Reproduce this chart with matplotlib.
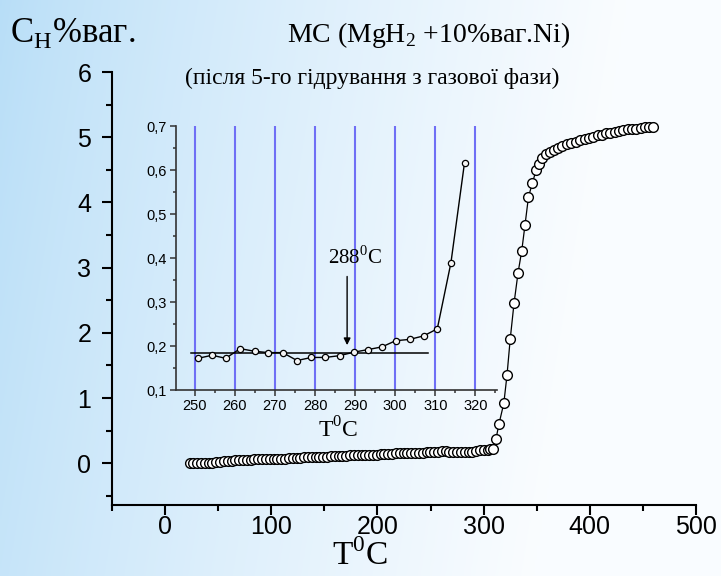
import numpy as np
import matplotlib
matplotlib.use("Agg")
import matplotlib.pyplot as plt
from matplotlib.ticker import MultipleLocator, FuncFormatter

# ---------------- data ----------------
main_T = [23.0, 26.6, 30.2, 33.8, 37.4, 41.0, 44.6, 48.2, 51.8, 55.4, 59.0, 62.6,
          66.2, 69.8, 73.4, 77.0, 80.6, 84.2, 87.8, 91.4, 95.0, 98.6, 102.2, 105.8,
          109.4, 113.0, 116.6, 120.2, 123.8, 127.4, 131.0, 134.6, 138.2, 141.8, 145.4,
          149.0, 152.6, 156.2, 159.8, 163.4, 167.0, 170.6, 174.2, 177.8, 181.4, 185.0,
          188.6, 192.2, 195.8, 199.4, 203.0, 206.6, 210.2, 213.8, 217.4, 221.0, 224.6,
          228.2, 231.8, 235.4, 239.0, 242.6, 246.2, 249.8, 253.4, 257.0, 260.6, 264.2,
          267.8, 271.4, 275.0, 278.6, 282.2, 285.8, 289.4, 293.0, 296.6, 300.2, 303.8,
          306.4, 308.8,
          311.6, 314.4, 319.0, 322.0, 325.0, 328.6, 332.4, 335.9, 339.0, 342.2, 345.9,
          349.4, 352.2, 355.3, 359.1, 362.9, 366.7, 370.4, 374.2, 378.7, 382.4, 386.9,
          390.6, 395.0, 398.8, 403.2, 407.6, 411.4, 415.2, 419.0, 423.3, 427.8, 431.5,
          436.0, 439.8, 443.5, 447.9, 451.7, 455.4, 459.2]
main_C = [0.00, 0.00, 0.00, 0.01, 0.01, 0.01, 0.01, 0.02, 0.02, 0.04, 0.04, 0.04,
          0.05, 0.05, 0.05, 0.05, 0.05, 0.06, 0.06, 0.06, 0.07, 0.07, 0.06, 0.07,
          0.07, 0.07, 0.08, 0.08, 0.08, 0.08, 0.09, 0.09, 0.09, 0.10, 0.10,
          0.10, 0.10, 0.11, 0.11, 0.11, 0.11, 0.11, 0.12, 0.12, 0.12, 0.12,
          0.13, 0.13, 0.13, 0.13, 0.14, 0.14, 0.14, 0.14, 0.15, 0.15, 0.15,
          0.15, 0.16, 0.16, 0.16, 0.16, 0.17, 0.17, 0.18, 0.17, 0.19, 0.19,
          0.18, 0.18, 0.17, 0.17, 0.17, 0.18, 0.18, 0.19, 0.20, 0.21, 0.21,
          0.22, 0.22,
          0.37, 0.60, 0.92, 1.35, 1.90, 2.45, 2.92, 3.26, 3.66, 4.08, 4.30,
          4.49, 4.59, 4.68, 4.74, 4.78, 4.81, 4.84, 4.86, 4.89, 4.91, 4.93,
          4.95, 4.97, 4.99, 5.01, 5.03, 5.04, 5.06, 5.07, 5.08, 5.10, 5.11,
          5.12, 5.13, 5.13, 5.14, 5.15, 5.15, 5.16]

inset_T = [250.8, 254.3, 257.7, 261.3, 264.9, 268.3, 271.9, 275.5, 279.1, 282.5,
           286.1, 289.7, 293.3, 296.7, 300.1, 303.6, 307.1, 310.5, 313.9, 317.3]
inset_C = [0.172, 0.179, 0.172, 0.194, 0.188, 0.185, 0.185, 0.167, 0.174, 0.174,
           0.178, 0.186, 0.192, 0.198, 0.212, 0.215, 0.223, 0.239, 0.389, 0.617]
baseline_T = [249.0, 308.2]
baseline_C = [0.183, 0.183]
grid_T = [250, 260, 270, 280, 290, 300, 310, 320]
onset_T = 288
onset_label = "288$^\\mathregular{0}$C"

# ---------------- figure ----------------
W, H = 721, 576
fig = plt.figure(figsize=(W / 100, H / 100), dpi=100)

# background gradient
bg = fig.add_axes([0, 0, 1, 1], zorder=-10)
xx = np.linspace(0, 1, 300)[None, :]
yy = np.linspace(0, 1, 240)[:, None]
t = np.clip(xx * 1.15 + (1 - yy) * 0.15, 0, 1) ** 0.8
c0 = np.array([0.72, 0.87, 0.97])
c1 = np.array([0.98, 0.99, 1.0])
img = c0[None, None, :] * (1 - t[..., None]) + c1[None, None, :] * t[..., None]
bg.imshow(img, aspect="auto", extent=[0, 1, 0, 1], origin="lower")
bg.set_axis_off()

serif = ["Liberation Serif", "DejaVu Serif"]
sans = ["Liberation Sans", "DejaVu Sans"]
plt.rcParams["mathtext.fontset"] = "custom"
plt.rcParams["mathtext.rm"] = "Liberation Serif"

# main axes
ax = fig.add_axes([112 / W, 1 - 505 / H, (696 - 112) / W, (505 - 72) / H])
ax.patch.set_alpha(0)
ax.plot(main_T, main_C, color="black", lw=0.9, marker="o", ms=7,
        mfc="white", mec="black", mew=1.0, zorder=3)
ax.set_xlim(-50, 500)
ax.set_ylim(-0.64, 6)
for s in ["top", "right"]:
    ax.spines[s].set_visible(False)
for s in ["left", "bottom"]:
    ax.spines[s].set_linewidth(1.5)
ax.xaxis.set_major_locator(MultipleLocator(100))
ax.xaxis.set_minor_locator(MultipleLocator(50))
ax.yaxis.set_major_locator(MultipleLocator(1))
ax.yaxis.set_minor_locator(MultipleLocator(0.5))
ax.tick_params(which="major", length=7, width=1.5, direction="out", labelsize=18)
ax.tick_params(which="minor", length=4, width=1.5, direction="out")
ax.tick_params(axis="y", pad=8)
ax.tick_params(axis="x", pad=0)
for lab in ax.get_xticklabels() + ax.get_yticklabels():
    lab.set_family(sans)

# inset
ia = fig.add_axes([176 / W, 1 - 390 / H, (497 - 176) / W, (390 - 126) / H])
ia.patch.set_alpha(0)
ia.set_xlim(245.3, 325.4)
ia.set_ylim(0.1, 0.7)
for g in grid_T:
    ia.plot([g, g], [0.1, 0.7], color="#6f6ff5", lw=1.5, zorder=1)
ia.plot(baseline_T, baseline_C, color="black", lw=1.1, zorder=2)
ia.plot(inset_T, inset_C, color="black", lw=1.0, marker="o", ms=4.5,
        mfc="#f4f4f4", mec="black", mew=0.9, zorder=3)
ia.annotate("", xy=(onset_T, 0.202), xytext=(onset_T, 0.358),
            arrowprops=dict(arrowstyle="-|>", color="black", lw=1.0,
                            mutation_scale=10, shrinkA=0, shrinkB=0))
ia.text(290, 0.40, onset_label, ha="center", va="center", fontsize=15,
        family=serif)
for s in ["top", "right"]:
    ia.spines[s].set_visible(False)
for s in ["left", "bottom"]:
    ia.spines[s].set_linewidth(1.2)
    ia.spines[s].set_color("#333333")
ia.xaxis.set_major_locator(MultipleLocator(10))
ia.xaxis.set_minor_locator(MultipleLocator(5))
ia.yaxis.set_major_locator(MultipleLocator(0.1))
ia.yaxis.set_minor_locator(MultipleLocator(0.05))
ia.yaxis.set_major_formatter(FuncFormatter(lambda v, p: f"{v:.1f}".replace(".", ",")))
ia.tick_params(which="major", length=4.5, width=1.1, color="#333333",
               labelsize=10.5, pad=2)
ia.tick_params(which="minor", length=2.5, width=1.1, color="#333333")
for lab in ia.get_xticklabels() + ia.get_yticklabels():
    lab.set_family(sans)
fig.text(338 / W, 1 - 430 / H, "T$^\\mathregular{0}$C", ha="center", va="center",
         fontsize=17, family=serif)

# titles and labels
fig.text(10 / W, 1 - 42 / H, "C$_\\mathregular{H}$%ваг.", ha="left",
         va="baseline", fontsize=25, family=serif)
fig.text(287 / W, 1 - 42 / H, "MC (MgH$_\\mathregular{2}$ +10%ваг.Ni)", ha="left",
         va="baseline", fontsize=20, family=serif)
fig.text(372 / W, 1 - 78 / H, "(після 5-го гідрування з газової фази)",
         ha="center", va="center", fontsize=17, family=serif)
fig.text(360 / W, 4 / H, "T$^\\mathregular{0}$C", ha="center", va="bottom",
         fontsize=24, family=serif)

fig.savefig("out.png", dpi=100)
